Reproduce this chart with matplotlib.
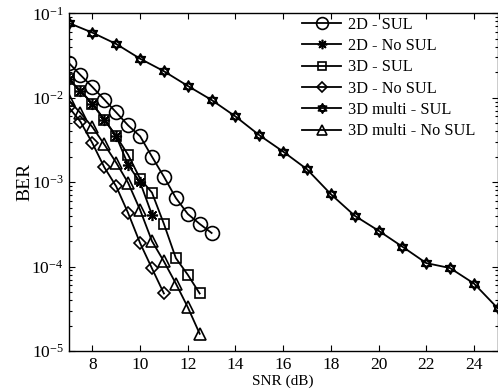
import numpy as np
import matplotlib
matplotlib.use("Agg")
import matplotlib.pyplot as plt
from matplotlib.path import Path

plt.rcParams['font.family'] = ['Liberation Serif', 'DejaVu Serif']
plt.rcParams['mathtext.fontset'] = 'custom'
plt.rcParams['mathtext.rm'] = 'Liberation Serif'
plt.rcParams['mathtext.it'] = 'Liberation Serif:italic'

# SNR values (dB)
snr_2d_sul = [7, 7.5, 8, 8.5, 9, 9.5, 10, 10.5, 11, 11.5, 12, 12.5, 13]
ber_2d_sul = [0.026, 0.0186, 0.0134, 0.0095, 0.0067, 0.0047, 0.0035, 0.002,
              0.00116, 0.00065, 0.00042, 0.00032, 0.00025]

snr_2d_nosul = [7, 7.5, 8, 8.5, 9, 9.5, 10, 10.5]
ber_2d_nosul = [0.0165, 0.0121, 0.0085, 0.0055, 0.0035, 0.0016, 0.001, 0.00041]

snr_3d_sul = [7, 7.5, 8, 8.5, 9, 9.5, 10, 10.5, 11, 11.5, 12, 12.5]
ber_3d_sul = [0.0165, 0.0121, 0.0084, 0.0055, 0.0035, 0.0021, 0.0011, 0.00075,
              0.00032, 0.000126, 8.0e-5, 4.8e-5]

snr_3d_nosul = [7, 7.5, 8, 8.5, 9, 9.5, 10, 10.5, 11]
ber_3d_nosul = [0.0078, 0.0052, 0.0029, 0.0015, 0.00089, 0.00043, 0.00019,
                9.5e-5, 4.8e-5]

snr_multi_sul = list(range(7, 26))
ber_multi_sul = [0.077, 0.059, 0.0433, 0.029, 0.0206, 0.0138, 0.0094, 0.006,
                 0.0036, 0.0023, 0.00142, 0.00072, 0.0004, 0.000266, 0.000172,
                 0.00011, 9.6e-5, 6.3e-5, 3.2e-5]

snr_multi_nosul = [7, 7.5, 8, 8.5, 9, 9.5, 10, 10.5, 11, 11.5, 12, 12.5]
ber_multi_nosul = [0.0094, 0.0066, 0.0045, 0.0028, 0.0017, 0.00098, 0.00047,
                   0.0002, 0.000115, 6.3e-5, 3.3e-5, 1.6e-5]

labels = ['2D - SUL', '2D - No SUL', '3D - SUL', '3D - No SUL',
          '3D multi - SUL', '3D multi - No SUL']

# hexagram marker: two overlapping triangles
ang_up = np.deg2rad([90, 210, 330])
ang_dn = np.deg2rad([270, 30, 150])
verts = []
codes = []
for angs in (ang_up, ang_dn):
    pts = [(np.cos(a), np.sin(a)) for a in angs]
    verts += pts + [pts[0]]
    codes += [Path.MOVETO, Path.LINETO, Path.LINETO, Path.CLOSEPOLY]
hexagram = Path(verts, codes)

fig = plt.figure(figsize=(4.98, 3.92), dpi=100)
ax = fig.add_axes([0.1376, 0.1046, 0.862, 0.8615])

series = [
    (snr_2d_sul, ber_2d_sul, 'o', 10),
    (snr_2d_nosul, ber_2d_nosul, (8, 2, 0), 8),
    (snr_3d_sul, ber_3d_sul, 's', 7),
    (snr_3d_nosul, ber_3d_nosul, 'D', 6.5),
    (snr_multi_sul, ber_multi_sul, hexagram, 8),
    (snr_multi_nosul, ber_multi_nosul, '^', 9),
]
for (x, y, m, ms), lab in zip(series, labels):
    ax.semilogy(x, y, color='k', lw=1.3, marker=m, ms=ms, mfc='none',
                mec='k', mew=1.2, label=lab)

ax.set_xlim(7, 25)
ax.set_ylim(1e-5, 1e-1)
ax.set_xticks([8, 10, 12, 14, 16, 18, 20, 22, 24])
ax.tick_params(which='both', direction='in', top=True, right=True,
               labelsize=12.5, width=0.8)
ax.tick_params(which='major', length=4)
ax.tick_params(which='minor', length=2.5)
ax.tick_params(axis='x', pad=4.5)
for s in ax.spines.values():
    s.set_linewidth(1.0)

ax.set_xlabel('SNR (dB)', fontsize=11, labelpad=1)
ax.set_ylabel('BER', fontsize=14)
ax.yaxis.set_label_coords(-0.083, 0.5)

ax.legend(loc='upper left', bbox_to_anchor=(0.543, 0.99), frameon=False,
          fontsize=11.7, handlelength=2.45, handletextpad=0.39,
          labelspacing=0.33, borderaxespad=0, borderpad=0,
          markerscale=0.85)

fig.savefig('out.png', dpi=100)
